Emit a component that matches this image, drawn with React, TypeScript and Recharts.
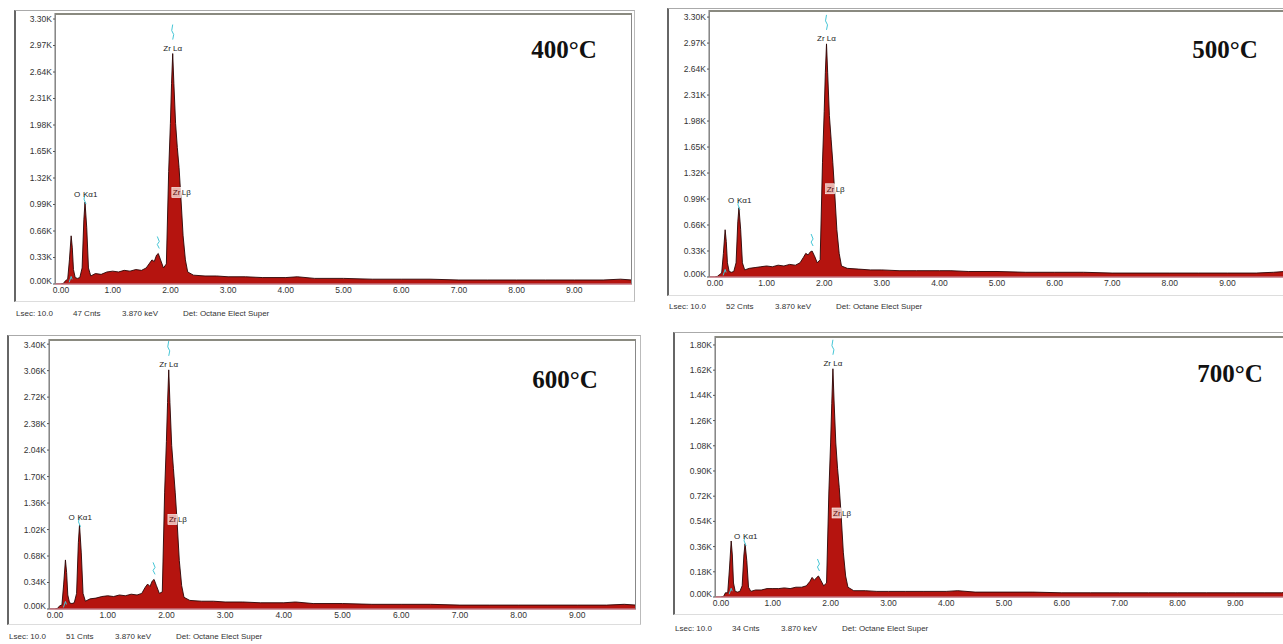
import React from "react";
import { AreaChart, Area, XAxis, YAxis, ReferenceDot } from "recharts";

// energy axis (keV), shared by the four spectra
const energy = [
  0, 0.1, 0.15, 0.18, 0.22, 0.25, 0.28, 0.3, 0.32, 0.35,
  0.39, 0.43, 0.47, 0.5, 0.52, 0.55, 0.58, 0.62, 0.7, 0.8,
  0.9, 1.0, 1.1, 1.2, 1.3, 1.4, 1.5, 1.58, 1.64, 1.68,
  1.72, 1.76, 1.79, 1.83, 1.88, 1.93, 1.97, 2.0, 2.02, 2.04,
  2.06, 2.09, 2.12, 2.15, 2.18, 2.22, 2.26, 2.3, 2.4, 2.6,
  2.8, 3.0, 3.3, 3.6, 4.0, 4.2, 4.5, 5.0, 5.5, 6.0,
  6.5, 7.0, 7.5, 8.0, 8.5, 9.0, 9.5, 9.8, 10.0,
];

// counts in K
const counts400 = [
  0, 0, 0.01, 0.04, 0.06, 0.3, 0.6, 0.45, 0.18, 0.08,
  0.07, 0.08, 0.2, 0.8, 1.02, 0.7, 0.2, 0.1, 0.13, 0.12,
  0.15, 0.16, 0.15, 0.17, 0.16, 0.18, 0.17, 0.2, 0.26, 0.3,
  0.28, 0.36, 0.38, 0.3, 0.2, 0.25, 1.4, 2.0, 2.5, 2.87,
  2.5, 2.0, 1.7, 1.45, 1.1, 0.6, 0.3, 0.15, 0.11, 0.1,
  0.1, 0.09, 0.09, 0.08, 0.08, 0.09, 0.07, 0.07, 0.06, 0.06,
  0.06, 0.05, 0.05, 0.05, 0.05, 0.05, 0.05, 0.06, 0.05,
];
const counts500 = [
  0, 0, 0.01, 0.03, 0.05, 0.3, 0.6, 0.45, 0.18, 0.07,
  0.06, 0.07, 0.18, 0.7, 0.88, 0.6, 0.18, 0.09, 0.11, 0.12,
  0.13, 0.14, 0.13, 0.15, 0.14, 0.16, 0.15, 0.18, 0.25, 0.3,
  0.28, 0.32, 0.33, 0.27, 0.18, 0.22, 1.45, 2.1, 2.6, 2.96,
  2.6, 2.05, 1.75, 1.45, 1.1, 0.6, 0.3, 0.14, 0.11, 0.1,
  0.09, 0.09, 0.08, 0.08, 0.08, 0.08, 0.07, 0.07, 0.06, 0.06,
  0.06, 0.05, 0.05, 0.05, 0.05, 0.05, 0.05, 0.06, 0.07,
];
const counts600 = [
  0, 0, 0.01, 0.04, 0.05, 0.32, 0.63, 0.47, 0.18, 0.08,
  0.07, 0.08, 0.2, 0.85, 1.08, 0.72, 0.2, 0.1, 0.13, 0.14,
  0.16, 0.17, 0.16, 0.18, 0.17, 0.19, 0.18, 0.2, 0.28, 0.32,
  0.29, 0.36, 0.38, 0.3, 0.2, 0.22, 1.5, 2.15, 2.65, 3.07,
  2.65, 2.1, 1.8, 1.5, 1.15, 0.62, 0.3, 0.15, 0.11, 0.1,
  0.1, 0.09, 0.09, 0.08, 0.08, 0.09, 0.07, 0.07, 0.06, 0.06,
  0.06, 0.05, 0.05, 0.05, 0.05, 0.05, 0.05, 0.06, 0.05,
];
const counts700 = [
  0, 0, 0.005, 0.03, 0.03, 0.2, 0.4, 0.3, 0.1, 0.04,
  0.035, 0.04, 0.08, 0.3, 0.38, 0.26, 0.07, 0.04, 0.05, 0.05,
  0.06, 0.06, 0.06, 0.065, 0.06, 0.07, 0.07, 0.08, 0.11, 0.14,
  0.12, 0.14, 0.15, 0.12, 0.08, 0.1, 0.75, 1.1, 1.38, 1.63,
  1.4, 1.1, 0.92, 0.78, 0.6, 0.32, 0.15, 0.07, 0.045, 0.045,
  0.04, 0.04, 0.04, 0.04, 0.04, 0.045, 0.035, 0.035, 0.035, 0.03,
  0.03, 0.03, 0.03, 0.03, 0.03, 0.03, 0.03, 0.03, 0.04,
];

const xTicks = [0, 1, 2, 3, 4, 5, 6, 7, 8, 9];
const yTicks330 = [0, 0.33, 0.66, 0.99, 1.32, 1.65, 1.98, 2.31, 2.64, 2.97, 3.3];
const yTicks340 = [0, 0.34, 0.68, 1.02, 1.36, 1.7, 2.04, 2.38, 2.72, 3.06, 3.4];
const yTicks180 = [0, 0.18, 0.36, 0.54, 0.72, 0.9, 1.08, 1.26, 1.44, 1.62, 1.8];

const titles = ["400°C", "500°C", "600°C", "700°C"];
const cntLabels = ["47 Cnts", "52 Cnts", "51 Cnts", "34 Cnts"];
const zrLbetaLevel = [1.14, 1.12, 1.15, 0.6];

// peak positions, keV
const peakC = 0.28;
const peakO = 0.52;
const peakHump = 1.79;
const peakZr = 2.04;
const peakZrLb = 2.06;

const sans = "'Liberation Sans', Arial, sans-serif";
const cyan = "#45c6d6";

const panels = [
  { counts: counts400, yTicks: yTicks330, yMax: 3.375, frame: { x: 14, y: 10, w: 621, h: 292 }, plot: { x: 55, y: 13, w: 577, h: 271 }, footerY: 309, titleX: 564, titleY: 50 },
  { counts: counts500, yTicks: yTicks330, yMax: 3.39, frame: { x: 667, y: 8, w: 630, h: 288 }, plot: { x: 709, y: 10, w: 576, h: 267 }, footerY: 302, titleX: 1225, titleY: 50 },
  { counts: counts600, yTicks: yTicks340, yMax: 3.466, frame: { x: 7, y: 335, w: 634, h: 290 }, plot: { x: 49, y: 339, w: 587, h: 270 }, footerY: 632, titleX: 565, titleY: 380 },
  { counts: counts700, yTicks: yTicks180, yMax: 1.864, frame: { x: 673, y: 332, w: 630, h: 283 }, plot: { x: 715, y: 336, w: 578, h: 261 }, footerY: 624, titleX: 1230, titleY: 374 },
];

function center(props: any) {
  const vb = props.viewBox || {};
  return { x: (vb.x ?? 0) + (vb.width ?? 0) / 2, y: (vb.y ?? 0) + (vb.height ?? 0) / 2 };
}

function XTick(props: any) {
  const { x, y, payload } = props;
  const v = payload.value as number;
  // first label sits a little right of the corner, as on the instrument
  const dx = v === 0 ? 6 : 0;
  return (
    <text x={x + dx} y={y} dy="0.8em" textAnchor="middle" fontSize={8.5} fontFamily={sans} fill="#333">
      {v.toFixed(2)}
    </text>
  );
}

function YTick(props: any) {
  const { x, y, payload } = props;
  const v = payload.value as number;
  const dy = v === 0 ? -3 : 0;
  return (
    <text x={x} y={y + dy} dy="0.35em" textAnchor="end" fontSize={8.5} fontFamily={sans} fill="#333">
      {v.toFixed(2) + "K"}
    </text>
  );
}

function ZrAlphaTag(props: any) {
  const { x, y } = center(props);
  return (
    <g>
      <path d={`M${x},${y - 29} L${x - 1},${y - 23} L${x + 1},${y - 19} L${x},${y - 14}`} stroke={cyan} strokeWidth={1} fill="none" />
      <text x={x} y={y - 3} textAnchor="middle" fontSize={8} fontFamily={sans} fill="#222">Zr Lα</text>
    </g>
  );
}

function OTag(props: any) {
  const { x, y } = center(props);
  return (
    <g>
      <path d={`M${x},${y - 8} L${x - 1},${y - 3} L${x + 1},${y + 2}`} stroke={cyan} strokeWidth={1} fill="none" />
      <text x={x - 11} y={y - 5} fontSize={8} fontFamily={sans} fill="#222">O</text>
      <text x={x - 2} y={y - 5} fontSize={8} fontFamily={sans} fill="#222">Kα1</text>
    </g>
  );
}

function ZrBetaTag(props: any) {
  const { x, y } = center(props);
  return (
    <g>
      <rect x={x - 2} y={y - 5} width={9} height={10} fill="#e9b3ad" stroke="#fff" strokeWidth={0.6} />
      <text x={x - 1} y={y + 3} fontSize={8} fontFamily={sans} fill="#5a1010">Zr</text>
      <text x={x + 8} y={y + 3} fontSize={8} fontFamily={sans} fill="#222">Lβ</text>
    </g>
  );
}

function HumpTag(props: any) {
  const { x, y } = center(props);
  return (
    <path d={`M${x - 1},${y - 17} L${x + 1},${y - 12} L${x - 1},${y - 9} L${x + 1},${y - 5}`} stroke={cyan} strokeWidth={1} fill="none" />
  );
}

function CTag(props: any) {
  const { x, y } = center(props);
  return (
    <path d={`M${x - 2},${y} L${x},${y - 6} L${x + 1},${y - 3}`} stroke={cyan} strokeWidth={1} fill="none" />
  );
}

function Panel({ idx }: { idx: number }) {
  const p = panels[idx];
  const rows = energy.map((e, i) => ({ e, c: p.counts[i] }));
  const at = (k: number) => p.counts[energy.indexOf(k)];
  const { frame, plot } = p;
  const chartW = plot.x + plot.w - frame.x + 4;
  const chartH = plot.h + 25;
  return (
    <>
      <div
        style={{
          position: "absolute",
          left: frame.x,
          top: frame.y,
          width: frame.w,
          height: frame.h,
          borderLeft: "2px solid #666",
          borderTop: "1px solid #aaa",
          borderRight: "1px solid #bbb",
          borderBottom: "1px solid #ddd",
          boxSizing: "border-box",
        }}
      />
      <div style={{ position: "absolute", left: frame.x, top: plot.y - 3 }}>
        <AreaChart width={chartW} height={chartH} data={rows} margin={{ top: 3, right: 4, left: 0, bottom: 2 }}>
          <XAxis
            type="number"
            dataKey="e"
            domain={[0, 10]}
            ticks={xTicks}
            height={20}
            axisLine={{ stroke: "#c2707c", strokeWidth: 1.5 }}
            tickLine={false}
            tickSize={0}
            tickMargin={2}
            tick={<XTick />}
            allowDataOverflow
          />
          <YAxis
            type="number"
            domain={[0, p.yMax]}
            ticks={p.yTicks}
            width={plot.x - frame.x}
            axisLine={{ stroke: "#777" }}
            tickLine={{ stroke: "#555" }}
            tickSize={2}
            tickMargin={1}
            tick={<YTick />}
            allowDataOverflow
          />
          <Area
            type="linear"
            dataKey="c"
            stroke="#2a0404"
            strokeWidth={0.9}
            fill="#b5140f"
            fillOpacity={1}
            dot={false}
            activeDot={false}
            isAnimationActive={false}
          />
          <ReferenceDot x={peakC} y={0.02} r={0.5} fill="none" stroke="none" label={<CTag />} />
          <ReferenceDot x={peakO} y={at(peakO)} r={0.5} fill="none" stroke="none" label={<OTag />} />
          <ReferenceDot x={peakHump} y={at(peakHump)} r={0.5} fill="none" stroke="none" label={<HumpTag />} />
          <ReferenceDot x={peakZr} y={at(peakZr)} r={0.5} fill="none" stroke="none" label={<ZrAlphaTag />} />
          <ReferenceDot x={peakZrLb} y={zrLbetaLevel[idx]} r={0.5} fill="none" stroke="none" label={<ZrBetaTag />} />
        </AreaChart>
      </div>
      <div
        style={{
          position: "absolute",
          left: plot.x,
          top: plot.y,
          width: plot.w,
          height: plot.h,
          borderTop: "2px solid #8a8a80",
          borderRight: "1px solid #888",
          borderLeft: "1px solid #888",
          boxSizing: "border-box",
          pointerEvents: "none",
        }}
      />
      <div
        style={{
          position: "absolute",
          left: p.titleX,
          top: p.titleY,
          transform: "translate(-50%, -50%)",
          fontFamily: "'Liberation Serif', 'Times New Roman', serif",
          fontWeight: "bold",
          fontSize: 25,
          color: "#111",
          whiteSpace: "nowrap",
        }}
      >
        {titles[idx]}
      </div>
      <div style={{ position: "absolute", left: frame.x + 2, top: p.footerY, fontFamily: sans, fontSize: 8, color: "#333", whiteSpace: "nowrap" }}>
        <span style={{ position: "absolute", left: 0 }}>Lsec: 10.0</span>
        <span style={{ position: "absolute", left: 57 }}>{cntLabels[idx]}</span>
        <span style={{ position: "absolute", left: 106 }}>3.870 keV</span>
        <span style={{ position: "absolute", left: 167 }}>Det: Octane Elect Super</span>
      </div>
    </>
  );
}

export default function App() {
  return (
    <div
      style={{
        position: "absolute",
        left: 0,
        top: 0,
        width: 1283,
        height: 644,
        overflow: "hidden",
        background: "#fff",
      }}
    >
      <Panel idx={0} />
      <Panel idx={1} />
      <Panel idx={2} />
      <Panel idx={3} />
    </div>
  );
}
